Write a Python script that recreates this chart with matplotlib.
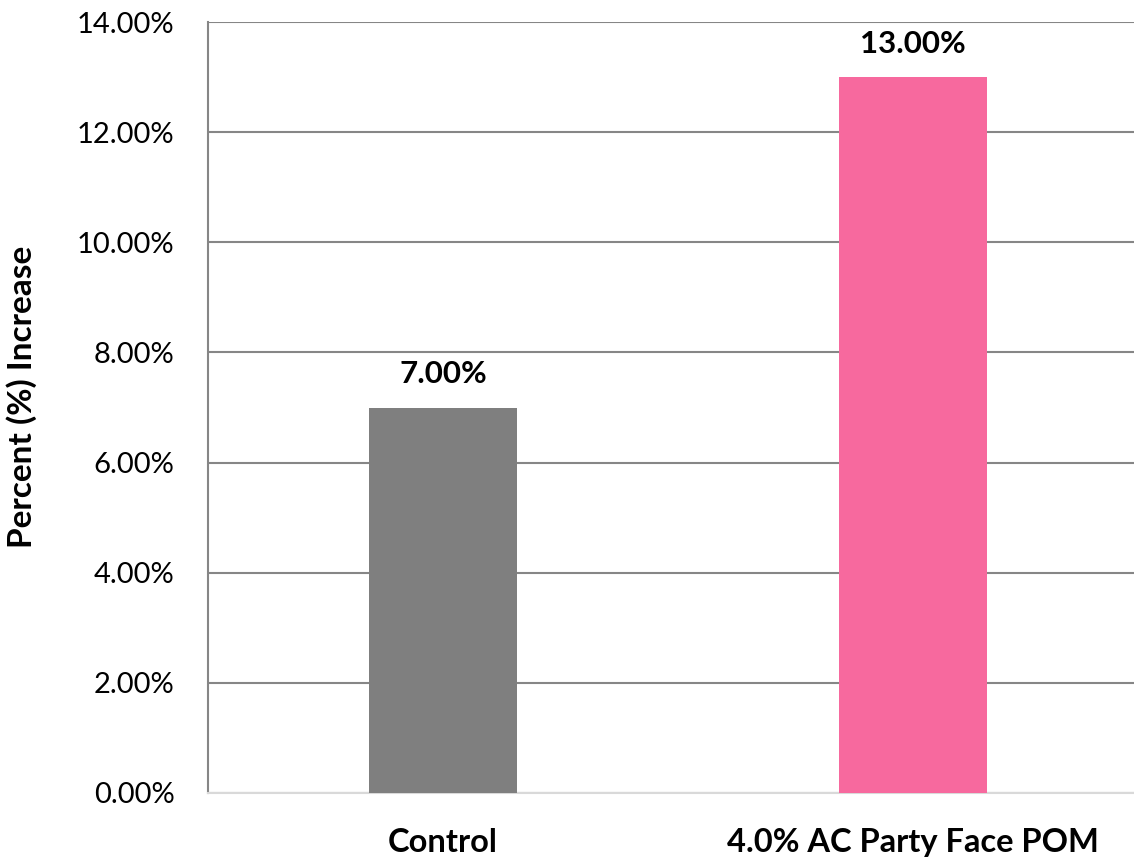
import matplotlib.pyplot as plt
from matplotlib.ticker import PercentFormatter

plt.rcParams['font.family'] = ['Lato', 'DejaVu Sans']

# data
categories = ["Control", "4.0% AC Party Face POM"]
increase = [7.00, 13.00]
bar_colors = ["#7f7f7f", "#f7699e"]

fig = plt.figure(figsize=(11.34, 8.57), dpi=100)
ax = fig.add_axes([0.1834, 0.0747, 0.829, 0.8996])

x = range(len(categories))
ax.bar(x, increase, width=0.315, color=bar_colors, zorder=3)

# value labels above bars
for xi, v in zip(x, increase):
    ax.text(xi, v + 0.35, f"{v:.2f}%", ha="center", va="bottom",
            fontsize=22.5, fontweight="bold")

ax.set_xlim(-0.5, 1.5)
ax.set_ylim(0, 14)
ax.set_yticks(range(0, 15, 2))
ax.yaxis.set_major_formatter(PercentFormatter(decimals=2))
ax.set_xticks(list(x))
ax.set_xticklabels(categories, fontsize=23.5, fontweight="bold")
ax.tick_params(axis="x", length=0, pad=25)
ax.tick_params(axis="y", length=0, pad=24, labelsize=21)

ax.grid(axis="y", color="#868686", linewidth=1.5, zorder=0)
for s in ["top", "right"]:
    ax.spines[s].set_visible(False)
ax.spines["left"].set_color("#868686")
ax.spines["left"].set_linewidth(1.5)
ax.spines["bottom"].set_color("#d9d9d9")
ax.spines["bottom"].set_linewidth(1.5)

ax.set_ylabel("Percent (%) Increase", fontsize=24, fontweight="bold")
ax.yaxis.set_label_coords(-0.182, 0.5136)

fig.savefig("out.png", dpi=100)
